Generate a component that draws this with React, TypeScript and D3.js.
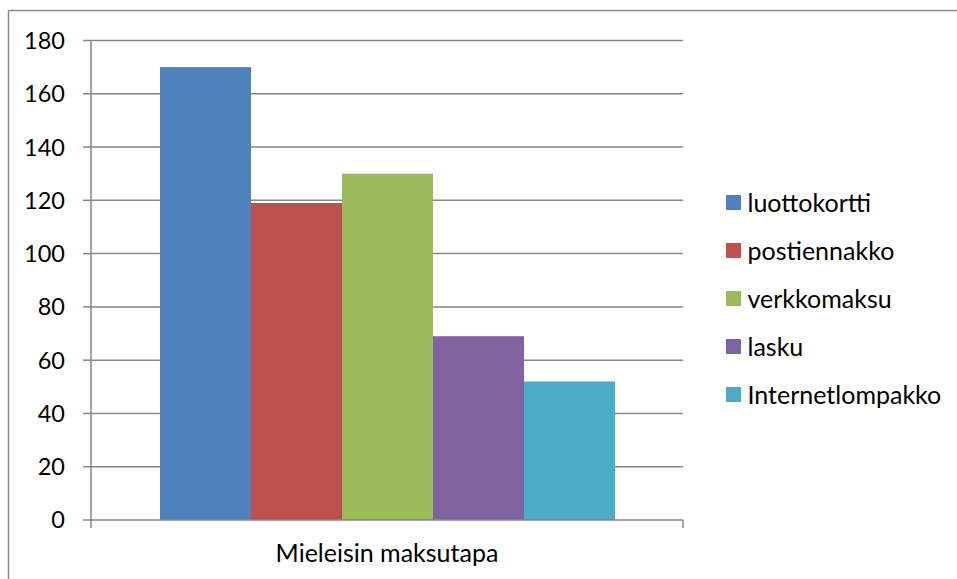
import * as d3 from 'd3'

const categories = ['luottokortti', 'postiennakko', 'verkkomaksu', 'lasku', 'Internetlompakko']
const values = [170, 119, 130, 69, 52]
const colors = ['#4F81BD', '#C0504D', '#9BBB59', '#8064A2', '#4BACC6']
const yTicks = [0, 20, 40, 60, 80, 100, 120, 140, 160, 180]
const axisLabel = 'Mieleisin maksutapa'

const W = 957
const H = 579
const font = 'Lato, "Noto Sans", sans-serif'

export default function App() {
  const left = 91
  const right = 683
  const top = 40.5
  const bottom = 520

  const y = d3.scaleLinear().domain([0, 180]).range([bottom, top])
  // bars fill the middle of the single category group
  const x = d3.scaleBand<string>().domain(categories).range([160, 615]).padding(0)

  const legendY = d3.scalePoint<string>().domain(categories).range([202.5, 394.5])

  return (
    <svg width={W} height={H} style={{ position: 'absolute', left: 0, top: 0, background: '#fff' }}>
      {/* outer frame, cut off on the right and bottom */}
      <line x1={8.5} y1={10.5} x2={W} y2={10.5} stroke="#8a8a8a" strokeWidth={1.5} />
      <line x1={8.5} y1={10.5} x2={8.5} y2={H} stroke="#8a8a8a" strokeWidth={1.5} />

      {yTicks.map(t => (
        <g key={t}>
          {t > 0 && (
            <line x1={left} x2={right} y1={y(t)} y2={y(t)} stroke="#868686" strokeWidth={1.5} />
          )}
          <line x1={83} x2={left} y1={y(t)} y2={y(t)} stroke="#868686" strokeWidth={1.5} />
          <text x={65} y={y(t)} dy="0.36em" textAnchor="end" fontFamily={font} fontSize={23.5} fill="#000">
            {t}
          </text>
        </g>
      ))}

      {categories.map((c, i) => (
        <rect key={c} x={x(c)} y={y(values[i])} width={x.bandwidth()} height={bottom - y(values[i])} fill={colors[i]} />
      ))}

      {/* axes */}
      <line x1={left} x2={left} y1={top} y2={bottom} stroke="#868686" strokeWidth={1.5} />
      <line x1={left} x2={right} y1={bottom} y2={bottom} stroke="#868686" strokeWidth={1.5} />
      <line x1={left} x2={left} y1={bottom} y2={528} stroke="#868686" strokeWidth={1.5} />
      <line x1={right} x2={right} y1={bottom} y2={528} stroke="#868686" strokeWidth={1.5} />

      <text x={(left + right) / 2} y={561.5} textAnchor="middle" fontFamily={font} fontSize={25} fill="#000">
        {axisLabel}
      </text>

      {categories.map((c, i) => (
        <g key={c} transform={`translate(726,${legendY(c)})`}>
          <rect x={0} y={-7.5} width={15} height={15} fill={colors[i]} />
          <text x={21.5} y={0} dy="0.36em" fontFamily={font} fontSize={25} fill="#000">
            {c}
          </text>
        </g>
      ))}
    </svg>
  )
}
